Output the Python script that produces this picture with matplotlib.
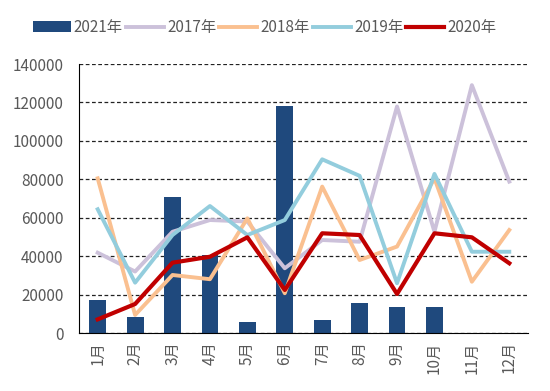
import matplotlib
matplotlib.use("Agg")
import matplotlib.pyplot as plt
import numpy as np

plt.rcParams['font.family'] = ['Noto Sans CJK SC', 'DejaVu Sans']

months = ['1月', '2月', '3月', '4月', '5月', '6月', '7月', '8月', '9月', '10月', '11月', '12月']
y2021 = [17200, 8200, 70700, 40600, 5900, 118200, 6800, 15500, 13700, 13700, None, None]
y2017 = [41800, 32000, 52700, 58800, 58000, 33700, 48400, 47500, 117900, 52700, 129000, 78800]
y2018 = [80500, 9400, 30200, 28000, 59700, 20700, 76200, 38000, 45000, 80500, 26700, 53600]
y2019 = [64400, 26200, 51000, 66100, 51000, 58800, 90400, 81800, 25900, 82800, 42300, 42300]
y2020 = [7100, 15100, 36600, 39700, 49800, 22400, 51900, 51000, 20300, 51900, 49800, 36300]
yticks = [0, 20000, 40000, 60000, 80000, 100000, 120000, 140000]

fig = plt.figure(figsize=(5.5, 3.91), dpi=100)
ax = fig.add_axes([0.1436, 0.1483, 0.8164, 0.688])

x = np.arange(len(months))
bar_x = [i for i, v in enumerate(y2021) if v is not None]
bar_v = [v for v in y2021 if v is not None]
ax.bar(bar_x, bar_v, width=0.45, color='#1F497D', label='2021年', zorder=2)
ax.plot(x, y2017, color='#CCC1DA', lw=2.8, label='2017年', zorder=3)
ax.plot(x, y2018, color='#FAC090', lw=2.8, label='2018年', zorder=3)
ax.plot(x, y2019, color='#93CDDD', lw=2.8, label='2019年', zorder=3)
ax.plot(x, y2020, color='#C00000', lw=3.0, label='2020年', zorder=4)

ax.set_xlim(-0.5, 11.5)
ax.set_ylim(0, 140000)
ax.set_yticks(yticks)
ax.set_yticklabels([str(t) for t in yticks])
ax.set_xticks(x)
ax.set_xticklabels(months, rotation=90)
ax.tick_params(axis='both', length=0, labelsize=11, labelcolor='#595959')
ax.tick_params(axis='y', pad=11)
ax.tick_params(axis='x', pad=6)
ax.yaxis.grid(True, linestyle=(0, (3, 2)), color='#222222', lw=0.9, zorder=0)
ax.set_axisbelow(True)
for s in ['top', 'right']:
    ax.spines[s].set_visible(False)
ax.spines['left'].set_color('#000000')
ax.spines['bottom'].set_color('#000000')
ax.spines['left'].set_linewidth(0.8)
ax.spines['bottom'].set_linewidth(0.8)

handles, labels = ax.get_legend_handles_labels()
order = [labels.index(l) for l in ['2021年', '2017年', '2018年', '2019年', '2020年']]
leg = fig.legend([handles[i] for i in order], [labels[i] for i in order],
                 loc='center', bbox_to_anchor=(0.481, 0.93), ncol=5, frameon=False,
                 fontsize=11, handlelength=2.5, handletextpad=0.2, columnspacing=0.2,
                 handleheight=0.65, borderpad=0)
for t in leg.get_texts():
    t.set_color('#595959')

fig.savefig('out.png', dpi=100)
